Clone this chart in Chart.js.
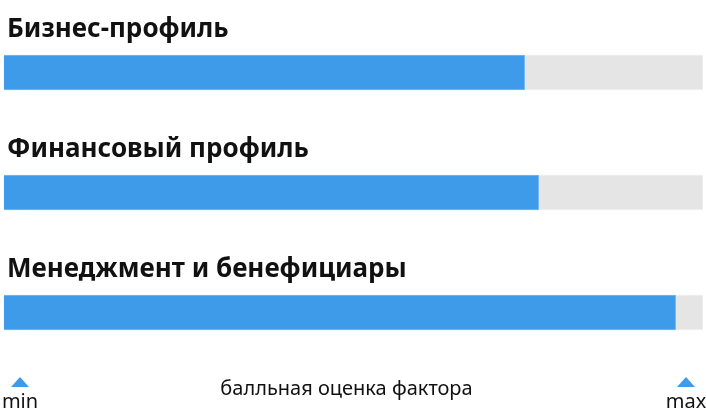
<!DOCTYPE html>
<html>
<head>
<meta charset="utf-8">
<script src="https://cdn.jsdelivr.net/npm/chart.js@4"></script>
<style>
  html, body { margin: 0; padding: 0; background: #fff; }
  #wrap { width: 706px; height: 419px; position: relative; }
</style>
</head>
<body>
<div id="wrap"><canvas id="factors"></canvas></div>
<script>
// данные
const categories = ["Бизнес-профиль", "Финансовый профиль", "Менеджмент и бенефициары"];
const scores = [74.5, 76.5, 96.1];
const maxScores = [100, 100, 100];
const scaleLabels = ["min", "max"];
const axisCaption = "балльная оценка фактора";

const blue = "#3d9be9";
const grey = "#e5e5e5";

// подписи над полосами и шкала min/max внизу
const labelsPlugin = {
  id: "labelsPlugin",
  afterDraw(chart) {
    const ctx = chart.ctx;
    const y = chart.scales.y;
    const area = chart.chartArea;
    ctx.save();
    ctx.fillStyle = "#111";
    ctx.font = "bold 26px 'Noto Sans'";
    ctx.textBaseline = "alphabetic";
    ctx.textAlign = "left";
    categories.forEach((c, i) => {
      ctx.fillText(c, area.left + 3, y.getPixelForValue(i) - 36);
    });

    // треугольники
    const xs = [area.left + 16, area.right - 17];
    ctx.fillStyle = blue;
    xs.forEach((x) => {
      ctx.beginPath();
      ctx.moveTo(x, 377);
      ctx.lineTo(x + 9, 387);
      ctx.lineTo(x - 9, 387);
      ctx.closePath();
      ctx.fill();
    });
    ctx.fillStyle = "#111";
    ctx.font = "20px 'Noto Sans'";
    ctx.textAlign = "center";
    scaleLabels.forEach((l, i) => ctx.fillText(l, xs[i], 408));
    ctx.fillText(axisCaption, (area.left + area.right) / 2 - 7, 395);
    ctx.restore();
  }
};

new Chart(document.getElementById("factors"), {
  type: "bar",
  data: {
    labels: categories,
    datasets: [
      {
        data: scores,
        backgroundColor: blue,
        borderColor: "#7dbdf2",
        borderWidth: 1,
        barThickness: 35
      },
      {
        data: maxScores,
        backgroundColor: grey,
        borderColor: "#efefef",
        borderWidth: 1,
        barThickness: 35
      }
    ]
  },
  options: {
    indexAxis: "y",
    responsive: true,
    maintainAspectRatio: false,
    animation: false,
    datasets: { bar: { grouped: false } },
    layout: { padding: { left: 4, right: 3, top: 12.5, bottom: 46.5 } },
    plugins: { legend: { display: false }, tooltip: { enabled: false } },
    scales: {
      x: { display: false, min: 0, max: 100 },
      y: { display: false }
    }
  },
  plugins: [labelsPlugin]
});
</script>
</body>
</html>
